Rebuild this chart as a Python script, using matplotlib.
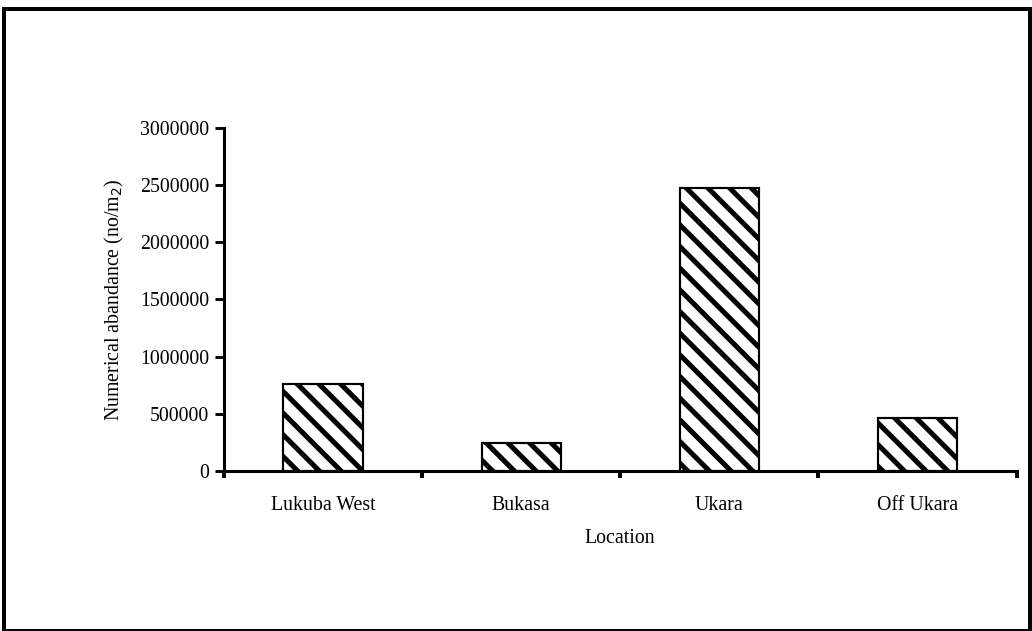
import numpy as np
import matplotlib.pyplot as plt
from matplotlib.patches import Rectangle

# data
locations = ['Lukuba West', 'Bukasa', 'Ukara', 'Off Ukara']
abundance = [757000, 240000, 2479000, 466000]
yticks = [0, 500000, 1000000, 1500000, 2000000, 2500000, 3000000]

dpi = 130
plt.rcParams['font.family'] = ['Liberation Serif', 'DejaVu Serif']
plt.rcParams['hatch.linewidth'] = 2.8
plt.rcParams['hatch.color'] = 'black'

fig = plt.figure(figsize=(1032 / dpi, 631 / dpi), dpi=dpi)
ax = fig.add_axes([0.217, 0.254, 0.768, 0.543])

x = np.arange(len(locations))
ax.bar(x, abundance, width=0.4, color='white', edgecolor='black',
       linewidth=1.2, hatch='\\\\')

ax.set_xlim(-0.5, len(locations) - 0.5)
ax.set_ylim(0, 3000000)
ax.set_yticks(yticks)
ax.set_yticklabels([str(v) for v in yticks], fontsize=11)
ax.set_xticks(x)
ax.set_xticklabels(locations, fontsize=11)
ax.tick_params(axis='x', which='major', length=0, pad=14)
ax.set_xticks(np.arange(len(locations) + 1) - 0.5, minor=True)
ax.tick_params(axis='x', which='minor', length=4, width=2.2, direction='out')
ax.tick_params(axis='y', length=5, width=1.6, pad=3)

for side in ['top', 'right']:
    ax.spines[side].set_visible(False)
for side in ['left', 'bottom']:
    ax.spines[side].set_linewidth(1.7)

ax.set_xlabel('Location', fontsize=11, labelpad=8)
ax.set_ylabel('Numerical abandance (no/m$_2$)', fontsize=11, labelpad=8)

# frame around the whole figure
fig.patches.append(Rectangle((0.004, 0.0), 0.994, 0.985, transform=fig.transFigure,
                             fill=False, edgecolor='black', linewidth=2.2))

fig.savefig('out.png', dpi=dpi)
